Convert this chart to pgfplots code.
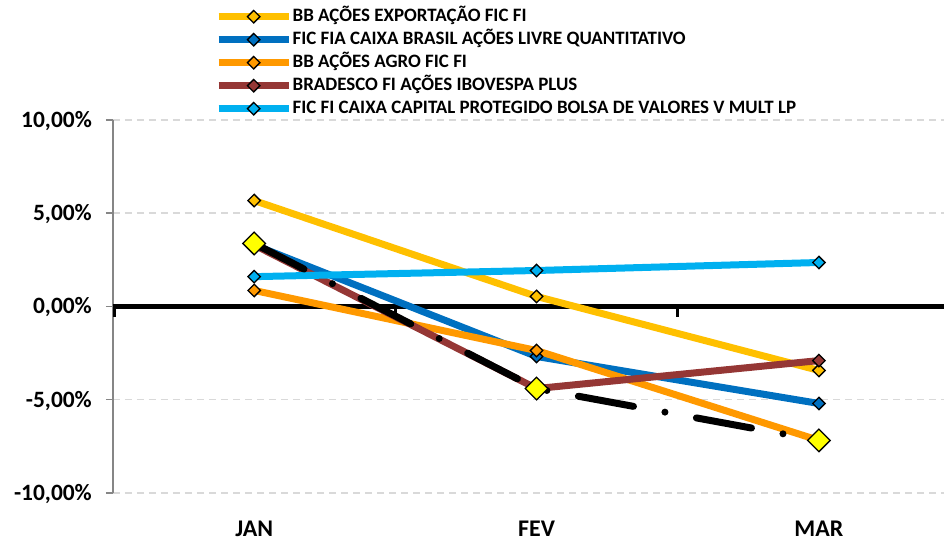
\documentclass[border=0pt]{standalone}
\usepackage{fontspec}
\setmainfont{Carlito}
\usepackage{pgfplots}
\pgfplotsset{compat=1.18}
\definecolor{cyel}{HTML}{FFC000}
\definecolor{cblue}{HTML}{0070C0}
\definecolor{corange}{HTML}{FF9900}
\definecolor{cbrown}{HTML}{953735}
\definecolor{clblue}{HTML}{00B0F0}
\definecolor{cgrid}{HTML}{D9D9D9}
\definecolor{caxis}{HTML}{868686}
\definecolor{cmark}{HTML}{FFFF00}
\pgfplotsset{
  smark/.style={mark=square*, mark size=4.4bp, mark options={rotate=45, fill=#1, draw=black, line width=1.3bp, solid}},
}
\begin{document}
\begin{tikzpicture}
\path[use as bounding box] (-113bp,-47bp) rectangle (831bp,493bp);
\begin{axis}[
  at={(0,0)}, anchor=south west,
  scale only axis, width=831bp, height=373bp,
  xmin=-0.5, xmax=2.443, ymin=-10, ymax=10,
  clip=false,
  separate axis lines,
  axis x line*=bottom, axis y line*=left,
  x axis line style={draw=none},
  y axis line style={caxis, line width=1.5bp},
  xtick={0,1,2}, xticklabels={JAN,FEV,MAR},
  major x tick style={draw=none},
  ytick={-10,-5,0,5,10},
  yticklabels={{-10,00\%},{-5,00\%},{0,00\%},{5,00\%},{10,00\%}},
  tick align=outside, major tick length=7bp,
  major y tick style={caxis, line width=1.5bp},
  ymajorgrids, y grid style={cgrid, line width=1.5bp, dash pattern=on 7bp off 5bp},
  xticklabel style={font=\fontsize{24}{28}\selectfont\bfseries, anchor=base, yshift=-36.5bp, inner ysep=0pt, text depth=0pt},
  yticklabel style={font=\fontsize{23.5}{27}\selectfont\bfseries, anchor=base east, inner xsep=0pt, xshift=-14bp, yshift=-7.4bp},
  legend style={draw=none, fill=none, at={(0.1227,1.3083)}, anchor=north west,
    font=\fontsize{19}{22}\selectfont\bfseries, inner sep=0pt,
    nodes={inner ysep=4.5bp, inner xsep=0.5bp, text height=12bp, text depth=2bp}},
  legend cell align=left,
  legend image code/.code={\draw[mark repeat=2,mark phase=2,#1] plot coordinates {(0bp,0bp)(35bp,0bp)(70bp,0bp)};},
]
% zero line and its ticks
\addplot[black, line width=5bp, forget plot, mark=none] coordinates {(-0.5,0)(2.443,0)};
\addplot[black, line width=3bp, forget plot, mark=none] coordinates {(-0.4947,0)(-0.4947,-0.56)};
\addplot[black, line width=3bp, forget plot, mark=none] coordinates {(0.5,0)(0.5,-0.56)};
\addplot[black, line width=3bp, forget plot, mark=none] coordinates {(1.5,0)(1.5,-0.56)};
% series
\addplot[cyel, line width=7bp, smark=cyel] coordinates {(0,5.68)(1,0.54)(2,-3.43)};
\addlegendentry{BB AÇÕES EXPORTAÇÃO FIC FI}
\addplot[cblue, line width=7bp, smark=cblue] coordinates {(0,3.30)(1,-2.68)(2,-5.20)};
\addlegendentry{FIC FIA CAIXA BRASIL AÇÕES LIVRE QUANTITATIVO}
\addplot[corange, line width=7bp, smark=corange] coordinates {(0,0.86)(1,-2.36)(2,-7.18)};
\addlegendentry{BB AÇÕES AGRO FIC FI}
\addplot[cbrown, line width=7bp, smark=cbrown] coordinates {(0,3.30)(1,-4.40)(2,-2.90)};
\addlegendentry{BRADESCO FI AÇÕES IBOVESPA PLUS}
\addplot[clblue, line width=7bp, smark=clblue] coordinates {(0,1.60)(1,1.93)(2,2.36)};
\addlegendentry{FIC FI CAIXA CAPITAL PROTEGIDO BOLSA DE VALORES V MULT LP}
\addplot[black, line width=7bp, line cap=round, dash pattern=on 56bp off 32bp on 0bp off 32bp, forget plot, mark=square*, mark size=8bp, mark options={rotate=45, fill=cmark, draw=black, line width=1.3bp, solid}] coordinates {(0,3.38)(1,-4.40)(2,-7.18)};
\end{axis}
\end{tikzpicture}
\end{document}
